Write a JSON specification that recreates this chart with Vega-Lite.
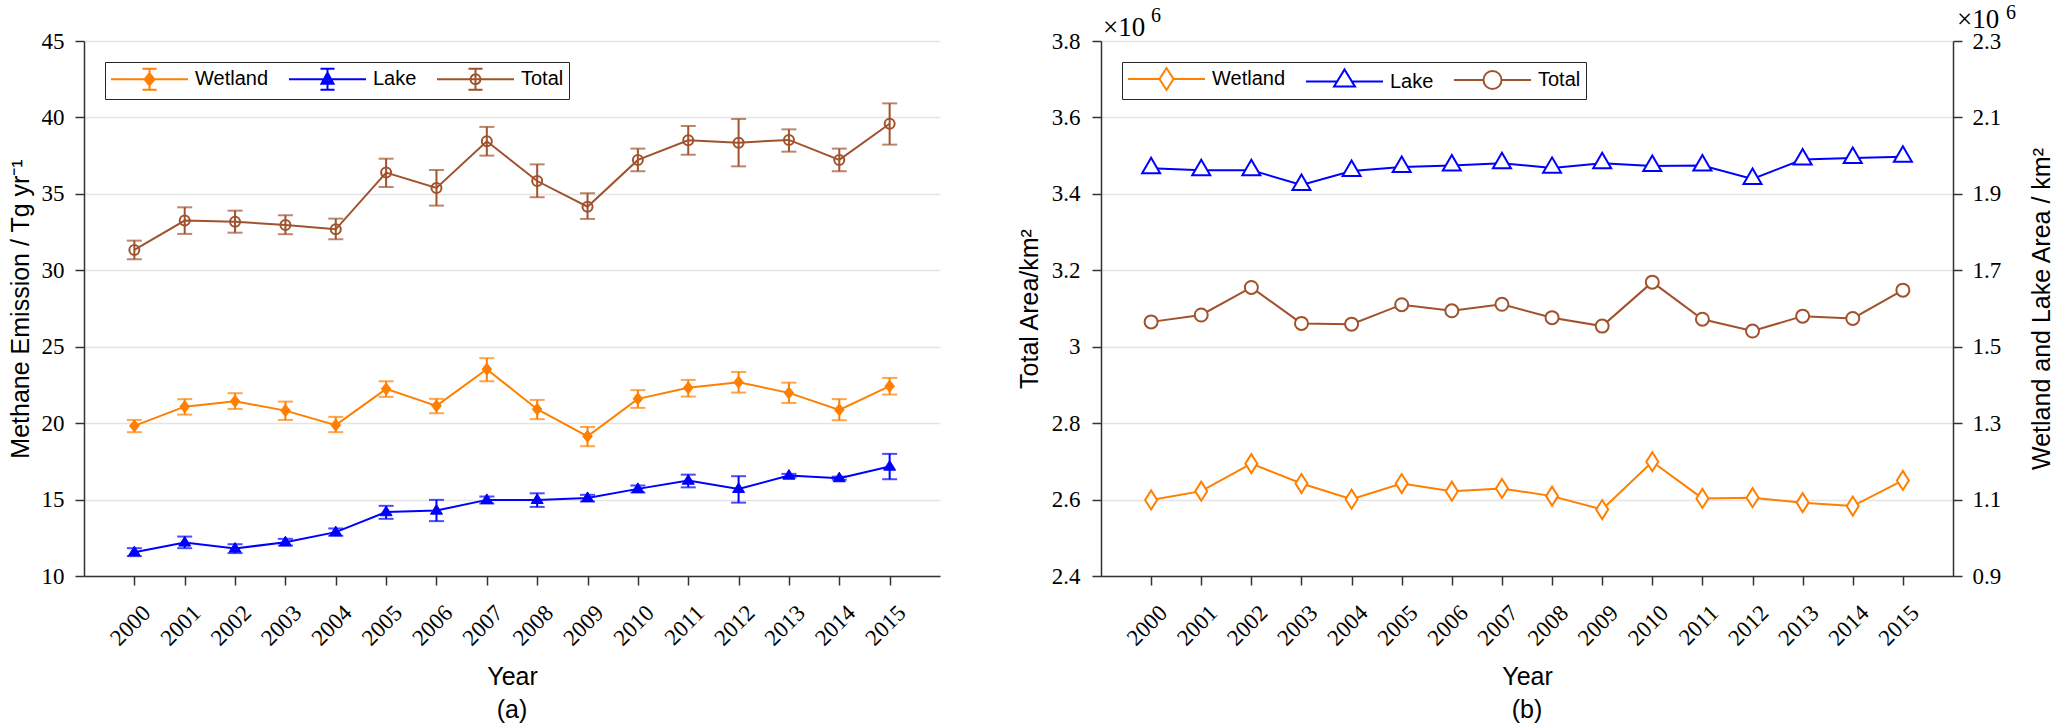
{
  "$schema": "https://vega.github.io/schema/vega-lite/v6.json",
  "background": "white",
  "padding": {"left": 8, "top": 3, "right": 0, "bottom": 0},
  "datasets": {
    "emission": [
      {"year": 2000, "series": "Wetland", "value": 19.82, "lo": 19.41, "hi": 20.21},
      {"year": 2001, "series": "Wetland", "value": 21.08, "lo": 20.56, "hi": 21.57},
      {"year": 2002, "series": "Wetland", "value": 21.43, "lo": 20.93, "hi": 21.96},
      {"year": 2003, "series": "Wetland", "value": 20.82, "lo": 20.21, "hi": 21.41},
      {"year": 2004, "series": "Wetland", "value": 19.87, "lo": 19.41, "hi": 20.41},
      {"year": 2005, "series": "Wetland", "value": 22.24, "lo": 21.72, "hi": 22.74},
      {"year": 2006, "series": "Wetland", "value": 21.13, "lo": 20.65, "hi": 21.59},
      {"year": 2007, "series": "Wetland", "value": 23.53, "lo": 22.74, "hi": 24.25},
      {"year": 2008, "series": "Wetland", "value": 20.91, "lo": 20.26, "hi": 21.52},
      {"year": 2009, "series": "Wetland", "value": 19.14, "lo": 18.49, "hi": 19.75},
      {"year": 2010, "series": "Wetland", "value": 21.59, "lo": 21.0, "hi": 22.16},
      {"year": 2011, "series": "Wetland", "value": 22.31, "lo": 21.74, "hi": 22.83},
      {"year": 2012, "series": "Wetland", "value": 22.68, "lo": 22.0, "hi": 23.35},
      {"year": 2013, "series": "Wetland", "value": 21.98, "lo": 21.32, "hi": 22.65},
      {"year": 2014, "series": "Wetland", "value": 20.87, "lo": 20.19, "hi": 21.57},
      {"year": 2015, "series": "Wetland", "value": 22.42, "lo": 21.87, "hi": 22.96},
      {"year": 2000, "series": "Lake", "value": 11.56, "lo": 11.3, "hi": 11.82},
      {"year": 2001, "series": "Lake", "value": 12.19, "lo": 11.82, "hi": 12.58},
      {"year": 2002, "series": "Lake", "value": 11.8, "lo": 11.5, "hi": 12.08},
      {"year": 2003, "series": "Lake", "value": 12.21, "lo": 11.99, "hi": 12.43},
      {"year": 2004, "series": "Lake", "value": 12.87, "lo": 12.63, "hi": 13.11},
      {"year": 2005, "series": "Lake", "value": 14.18, "lo": 13.74, "hi": 14.59},
      {"year": 2006, "series": "Lake", "value": 14.28, "lo": 13.59, "hi": 14.98},
      {"year": 2007, "series": "Lake", "value": 14.98, "lo": 14.74, "hi": 15.2},
      {"year": 2008, "series": "Lake", "value": 14.98, "lo": 14.52, "hi": 15.41},
      {"year": 2009, "series": "Lake", "value": 15.11, "lo": 14.87, "hi": 15.31},
      {"year": 2010, "series": "Lake", "value": 15.7, "lo": 15.46, "hi": 15.92},
      {"year": 2011, "series": "Lake", "value": 16.24, "lo": 15.8, "hi": 16.63},
      {"year": 2012, "series": "Lake", "value": 15.7, "lo": 14.8, "hi": 16.53},
      {"year": 2013, "series": "Lake", "value": 16.57, "lo": 16.45, "hi": 16.68},
      {"year": 2014, "series": "Lake", "value": 16.4, "lo": 16.3, "hi": 16.5},
      {"year": 2015, "series": "Lake", "value": 17.16, "lo": 16.33, "hi": 17.99},
      {"year": 2000, "series": "Total", "value": 31.33, "lo": 30.72, "hi": 31.94},
      {"year": 2001, "series": "Total", "value": 33.25, "lo": 32.38, "hi": 34.12},
      {"year": 2002, "series": "Total", "value": 33.18, "lo": 32.46, "hi": 33.9},
      {"year": 2003, "series": "Total", "value": 32.97, "lo": 32.36, "hi": 33.6},
      {"year": 2004, "series": "Total", "value": 32.68, "lo": 32.03, "hi": 33.38},
      {"year": 2005, "series": "Total", "value": 36.39, "lo": 35.45, "hi": 37.3},
      {"year": 2006, "series": "Total", "value": 35.39, "lo": 34.23, "hi": 36.56},
      {"year": 2007, "series": "Total", "value": 38.44, "lo": 37.5, "hi": 39.38},
      {"year": 2008, "series": "Total", "value": 35.84, "lo": 34.78, "hi": 36.93},
      {"year": 2009, "series": "Total", "value": 34.16, "lo": 33.36, "hi": 35.04},
      {"year": 2010, "series": "Total", "value": 37.22, "lo": 36.48, "hi": 37.96},
      {"year": 2011, "series": "Total", "value": 38.5, "lo": 37.56, "hi": 39.44},
      {"year": 2012, "series": "Total", "value": 38.35, "lo": 36.8, "hi": 39.9},
      {"year": 2013, "series": "Total", "value": 38.53, "lo": 37.76, "hi": 39.22},
      {"year": 2014, "series": "Total", "value": 37.22, "lo": 36.48, "hi": 37.96},
      {"year": 2015, "series": "Total", "value": 39.59, "lo": 38.22, "hi": 40.92}
    ],
    "area": [
      {"year": 2000, "series": "Wetland", "area": 1099000},
      {"year": 2001, "series": "Wetland", "area": 1122000},
      {"year": 2002, "series": "Wetland", "area": 1194000},
      {"year": 2003, "series": "Wetland", "area": 1142000},
      {"year": 2004, "series": "Wetland", "area": 1101000},
      {"year": 2005, "series": "Wetland", "area": 1142000},
      {"year": 2006, "series": "Wetland", "area": 1122000},
      {"year": 2007, "series": "Wetland", "area": 1129000},
      {"year": 2008, "series": "Wetland", "area": 1109000},
      {"year": 2009, "series": "Wetland", "area": 1074000},
      {"year": 2010, "series": "Wetland", "area": 1199000},
      {"year": 2011, "series": "Wetland", "area": 1103000},
      {"year": 2012, "series": "Wetland", "area": 1105000},
      {"year": 2013, "series": "Wetland", "area": 1092000},
      {"year": 2014, "series": "Wetland", "area": 1083000},
      {"year": 2015, "series": "Wetland", "area": 1150000},
      {"year": 2000, "series": "Lake", "area": 1967000},
      {"year": 2001, "series": "Lake", "area": 1962000},
      {"year": 2002, "series": "Lake", "area": 1962000},
      {"year": 2003, "series": "Lake", "area": 1923000},
      {"year": 2004, "series": "Lake", "area": 1960000},
      {"year": 2005, "series": "Lake", "area": 1970000},
      {"year": 2006, "series": "Lake", "area": 1974000},
      {"year": 2007, "series": "Lake", "area": 1980000},
      {"year": 2008, "series": "Lake", "area": 1968000},
      {"year": 2009, "series": "Lake", "area": 1980000},
      {"year": 2010, "series": "Lake", "area": 1973000},
      {"year": 2011, "series": "Lake", "area": 1974000},
      {"year": 2012, "series": "Lake", "area": 1939000},
      {"year": 2013, "series": "Lake", "area": 1990000},
      {"year": 2014, "series": "Lake", "area": 1994000},
      {"year": 2015, "series": "Lake", "area": 1997000},
      {"year": 2000, "series": "Total", "area": 3065000},
      {"year": 2001, "series": "Total", "area": 3083000},
      {"year": 2002, "series": "Total", "area": 3155000},
      {"year": 2003, "series": "Total", "area": 3061000},
      {"year": 2004, "series": "Total", "area": 3059000},
      {"year": 2005, "series": "Total", "area": 3110000},
      {"year": 2006, "series": "Total", "area": 3094000},
      {"year": 2007, "series": "Total", "area": 3111000},
      {"year": 2008, "series": "Total", "area": 3076000},
      {"year": 2009, "series": "Total", "area": 3054000},
      {"year": 2010, "series": "Total", "area": 3169000},
      {"year": 2011, "series": "Total", "area": 3072000},
      {"year": 2012, "series": "Total", "area": 3041000},
      {"year": 2013, "series": "Total", "area": 3080000},
      {"year": 2014, "series": "Total", "area": 3074000},
      {"year": 2015, "series": "Total", "area": 3148000}
    ]
  },
  "hconcat": [
    {
      "width": 856,
      "height": 535,
      "title": {"text": "(a)", "orient": "bottom", "font": "Liberation Sans", "fontSize": 25, "fontWeight": "normal", "color": "#000000", "offset": 9},
      "layer": [
        {
          "data": {"name": "emission"},
          "encoding": {
            "x": {
              "field": "year", "type": "quantitative",
              "scale": {"domain": [1999, 2016], "nice": false, "zero": false},
              "axis": {"title": "Year", "values": [2000, 2001, 2002, 2003, 2004, 2005, 2006, 2007, 2008, 2009, 2010, 2011, 2012, 2013, 2014, 2015], "format": "d", "labelAngle": -45, "labelAlign": "right", "labelBaseline": "middle", "labelOffset": 12, "labelPadding": 24, "grid": false, "titlePadding": 14}
            }
          },
          "layer": [
            {
              "mark": {"type": "rule", "strokeWidth": 2},
              "encoding": {
                "y": {"field": "lo", "type": "quantitative", "scale": {"domain": [10, 45], "nice": false, "zero": false},
                      "axis": {"title": "Methane Emission / Tg yr⁻¹", "values": [10, 15, 20, 25, 30, 35, 40, 45], "grid": true, "labelPadding": 11, "titlePadding": 8}},
                "y2": {"field": "hi"},
                "color": {"field": "series", "type": "nominal", "scale": {"domain": ["Total", "Lake", "Wetland"], "range": ["#A0522D", "#0000FF", "#FF7F00"]}, "legend": null}
              }
            },
            {
              "mark": {"type": "tick", "orient": "horizontal", "size": 15, "thickness": 2},
              "encoding": {
                "y": {"field": "lo", "type": "quantitative"},
                "color": {"field": "series", "type": "nominal", "legend": null}
              }
            },
            {
              "mark": {"type": "tick", "orient": "horizontal", "size": 15, "thickness": 2},
              "encoding": {
                "y": {"field": "hi", "type": "quantitative"},
                "color": {"field": "series", "type": "nominal", "legend": null}
              }
            },
            {
              "mark": {"type": "line", "strokeWidth": 2},
              "encoding": {
                "y": {"field": "value", "type": "quantitative"},
                "color": {"field": "series", "type": "nominal", "legend": null}
              }
            },
            {
              "transform": [{"filter": "datum.series === 'Wetland'"}],
              "mark": {"type": "point", "shape": "M-0.8,0L0,-1L0.8,0L0,1Z", "filled": true, "fill": "#FF7F00", "stroke": "#FF7F00", "strokeWidth": 1, "size": 144, "opacity": 1},
              "encoding": {"y": {"field": "value", "type": "quantitative"}}
            },
            {
              "transform": [{"filter": "datum.series === 'Lake'"}],
              "mark": {"type": "point", "shape": "M-1,0.6L0,-1L1,0.6Z", "filled": true, "fill": "#0000FF", "stroke": "#0000FF", "strokeWidth": 1, "size": 144, "opacity": 1},
              "encoding": {"y": {"field": "value", "type": "quantitative"}}
            },
            {
              "transform": [{"filter": "datum.series === 'Total'"}],
              "mark": {"type": "point", "shape": "circle", "filled": false, "stroke": "#A0522D", "strokeWidth": 2, "size": 100, "opacity": 1},
              "encoding": {"y": {"field": "value", "type": "quantitative"}}
            }
          ]
        },
        {
          "data": {"name": "emission"},
          "mark": {"type": "point", "filled": true, "fill": "white", "opacity": 0, "strokeWidth": 2},
          "encoding": {
            "x": {"field": "year", "type": "quantitative"},
            "y": {"field": "value", "type": "quantitative", "axis": null},
            "stroke": {"field": "series", "type": "nominal", "scale": {"domain": ["Wetland", "Lake", "Total"], "range": ["#FF7F00", "#0000FF", "#A0522D"]},
              "legend": {"title": null, "orient": "top-left", "offset": 21, "direction": "horizontal", "symbolSize": 484, "symbolStrokeWidth": 2, "symbolOpacity": 1, "symbolOffset": 0, "labelOffset": 61, "columnPadding": 16, "padding": 5, "strokeColor": "#262626", "fillColor": "white", "labelFont": "Liberation Sans", "labelFontSize": 20, "labelColor": "#000000"}},
            "shape": {"field": "series", "type": "nominal", "scale": {"domain": ["Wetland", "Lake", "Total"], "range": [
                "M-1,0L6,0M2.5,-0.95L2.5,0.95M1.86,-0.95L3.14,-0.95M1.86,0.95L3.14,0.95M2.05,0L2.5,-0.55L2.95,0L2.5,0.55ZM2.28,0L2.5,-0.28L2.72,0L2.5,0.28Z",
                "M-1,0L6,0M2.5,-0.95L2.5,0.95M1.86,-0.95L3.14,-0.95M1.86,0.95L3.14,0.95M1.95,0.4L2.5,-0.6L3.05,0.4ZM2.22,0.22L2.5,-0.3L2.78,0.22ZM2.05,0.3L2.95,0.3",
                "M-1,0L6,0M2.5,-0.95L2.5,0.95M1.86,-0.95L3.14,-0.95M1.86,0.95L3.14,0.95M2.95,0A0.45,0.45 0 1,1 2.05,0A0.45,0.45 0 1,1 2.95,0Z"]},
              "legend": {"title": null, "orient": "top-left", "offset": 21, "direction": "horizontal", "symbolSize": 484, "symbolStrokeWidth": 2, "symbolOpacity": 1, "symbolOffset": 0, "labelOffset": 61, "columnPadding": 16, "padding": 5, "strokeColor": "#262626", "fillColor": "white", "labelFont": "Liberation Sans", "labelFontSize": 20, "labelColor": "#000000"}}
          }
        }
      ],
      "resolve": {"scale": {"y": "independent"}}
    },
    {
      "width": 852,
      "height": 535,
      "title": {"text": "(b)", "orient": "bottom", "font": "Liberation Sans", "fontSize": 25, "fontWeight": "normal", "color": "#000000", "offset": 9},
      "layer": [
        {
          "data": {"name": "area"},
          "transform": [{"filter": "datum.series === 'Total'"}],
          "encoding": {
            "x": {
              "field": "year", "type": "quantitative",
              "scale": {"domain": [1999, 2016], "nice": false, "zero": false},
              "axis": {"title": "Year", "values": [2000, 2001, 2002, 2003, 2004, 2005, 2006, 2007, 2008, 2009, 2010, 2011, 2012, 2013, 2014, 2015], "format": "d", "labelAngle": -45, "labelAlign": "right", "labelBaseline": "middle", "labelOffset": 12, "labelPadding": 24, "grid": false, "titlePadding": 14}
            },
            "y": {"field": "area", "type": "quantitative", "scale": {"domain": [2400000, 3800000], "nice": false, "zero": false},
                  "axis": {"orient": "left", "title": "Total Area/km²", "values": [2400000, 2600000, 2800000, 3000000, 3200000, 3400000, 3600000, 3800000], "labelExpr": "format(datum.value / 1000000, '.1~f')", "grid": true, "labelPadding": 12, "titlePadding": 9}}
          },
          "layer": [
            {
              "mark": {"type": "line", "strokeWidth": 2, "color": "#A0522D"},
              "encoding": {}
            },
            {
              "mark": {"type": "point", "shape": "M0.65,0A0.65,0.65 0 1,1 -0.65,0A0.65,0.65 0 1,1 0.65,0Z", "filled": true, "fill": "white", "stroke": "#A0522D", "strokeWidth": 2, "size": 400, "opacity": 1},
              "encoding": {}
            }
          ]
        },
        {
          "data": {"name": "area"},
          "transform": [{"filter": "datum.series !== 'Total'"}],
          "encoding": {
            "x": {"field": "year", "type": "quantitative"},
            "y": {"field": "area", "type": "quantitative", "scale": {"domain": [900000, 2300000], "nice": false, "zero": false},
                  "axis": {"orient": "right", "title": "Wetland and Lake Area / km²", "values": [900000, 1100000, 1300000, 1500000, 1700000, 1900000, 2100000, 2300000], "labelExpr": "format(datum.value / 1000000, '.1~f')", "grid": false, "labelPadding": 10, "titleAngle": 270, "titleBaseline": "top", "titlePadding": 29}}
          },
          "layer": [
            {
              "mark": {"type": "line", "strokeWidth": 2},
              "encoding": {
                "color": {"field": "series", "type": "nominal", "scale": {"domain": ["Wetland", "Lake"], "range": ["#FF7F00", "#0000FF"]}, "legend": null}
              }
            },
            {
              "transform": [{"filter": "datum.series === 'Wetland'"}],
              "mark": {"type": "point", "shape": "M-0.6,0L0,-0.95L0.6,0L0,0.95Z", "filled": true, "fill": "white", "stroke": "#FF7F00", "strokeWidth": 2, "size": 400, "opacity": 1},
              "encoding": {}
            },
            {
              "transform": [{"filter": "datum.series === 'Lake'"}],
              "mark": {"type": "point", "shape": "M-0.9,0.5L0,-1.05L0.9,0.5Z", "filled": true, "fill": "white", "stroke": "#0000FF", "strokeWidth": 2, "size": 400, "opacity": 1},
              "encoding": {}
            }
          ]
        },
        {
          "data": {"name": "area"},
          "mark": {"type": "point", "filled": true, "fill": "white", "opacity": 0, "strokeWidth": 2},
          "encoding": {
            "x": {"field": "year", "type": "quantitative"},
            "y": {"field": "area", "type": "quantitative", "axis": null},
            "stroke": {"field": "series", "type": "nominal", "scale": {"domain": ["Wetland", "Lake", "Total"], "range": ["#FF7F00", "#0000FF", "#A0522D"]},
              "legend": {"title": null, "orient": "top-left", "offset": 21, "direction": "horizontal", "symbolSize": 484, "symbolStrokeWidth": 2, "symbolOpacity": 1, "symbolOffset": 0, "labelOffset": 61, "columnPadding": 16, "padding": 5, "strokeColor": "#262626", "fillColor": "white", "labelFont": "Liberation Sans", "labelFontSize": 20, "labelColor": "#000000"}},
            "shape": {"field": "series", "type": "nominal", "scale": {"domain": ["Wetland", "Lake", "Total"], "range": [
                "M-1,0H1.86M3.14,0H6M1.86,0L2.5,-1L3.14,0L2.5,1Z",
                "M-1,0H1.83M3.17,0H6M1.55,0.45L2.5,-1.1L3.45,0.45Z",
                "M-1,0H1.68M3.32,0H6M3.32,0A0.82,0.82 0 1,1 1.68,0A0.82,0.82 0 1,1 3.32,0Z"]},
              "legend": {"title": null, "orient": "top-left", "offset": 21, "direction": "horizontal", "symbolSize": 484, "symbolStrokeWidth": 2, "symbolOpacity": 1, "symbolOffset": 0, "labelOffset": 61, "columnPadding": 16, "padding": 5, "strokeColor": "#262626", "fillColor": "white", "labelFont": "Liberation Sans", "labelFontSize": 20, "labelColor": "#000000"}}
          }
        },
        {
          "data": {"values": [{"label": "×10"}]},
          "mark": {"type": "text", "font": "Liberation Serif", "fontSize": 27, "align": "left", "baseline": "alphabetic", "dx": 2, "dy": -5, "color": "#000000"},
          "encoding": {
            "x": {"datum": 1999, "type": "quantitative"},
            "y": {"datum": 3800000, "type": "quantitative", "scale": {"domain": [2400000, 3800000], "nice": false, "zero": false}, "axis": null},
            "text": {"field": "label", "type": "nominal"}
          }
        },
        {
          "data": {"values": [{"label": "6"}]},
          "mark": {"type": "text", "font": "Liberation Serif", "fontSize": 20, "align": "left", "baseline": "alphabetic", "dx": 50, "dy": -19, "color": "#000000"},
          "encoding": {
            "x": {"datum": 1999, "type": "quantitative"},
            "y": {"datum": 3800000, "type": "quantitative", "scale": {"domain": [2400000, 3800000], "nice": false, "zero": false}, "axis": null},
            "text": {"field": "label", "type": "nominal"}
          }
        },
        {
          "data": {"values": [{"label": "×10"}]},
          "mark": {"type": "text", "font": "Liberation Serif", "fontSize": 27, "align": "left", "baseline": "alphabetic", "dx": 4, "dy": -13, "color": "#000000"},
          "encoding": {
            "x": {"datum": 2016, "type": "quantitative"},
            "y": {"datum": 2300000, "type": "quantitative", "scale": {"domain": [900000, 2300000], "nice": false, "zero": false}, "axis": null},
            "text": {"field": "label", "type": "nominal"}
          }
        },
        {
          "data": {"values": [{"label": "6"}]},
          "mark": {"type": "text", "font": "Liberation Serif", "fontSize": 20, "align": "left", "baseline": "alphabetic", "dx": 53, "dy": -22, "color": "#000000"},
          "encoding": {
            "x": {"datum": 2016, "type": "quantitative"},
            "y": {"datum": 2300000, "type": "quantitative", "scale": {"domain": [900000, 2300000], "nice": false, "zero": false}, "axis": null},
            "text": {"field": "label", "type": "nominal"}
          }
        }
      ],
      "resolve": {"scale": {"y": "independent", "color": "independent"}}
    }
  ],
  "spacing": 161,
  "bounds": "flush",
  "resolve": {
    "scale": {"color": "independent", "shape": "independent", "fill": "independent", "stroke": "independent"},
    "legend": {"color": "independent", "shape": "independent", "fill": "independent", "stroke": "independent"}
  },
  "config": {
    "view": {"stroke": null},
    "font": "Liberation Sans",
    "axis": {
      "labelFont": "Liberation Serif", "labelFontSize": 23, "labelColor": "#000000",
      "titleFont": "Liberation Sans", "titleFontSize": 25, "titleFontWeight": "normal", "titleColor": "#000000",
      "domainColor": "#333333", "domainWidth": 1.5, "tickColor": "#333333", "tickWidth": 1.5, "tickSize": 9,
      "gridColor": "#E4E4E4", "gridWidth": 1.5, "labelFlush": false, "labelOverlap": false
    }
  }
}
